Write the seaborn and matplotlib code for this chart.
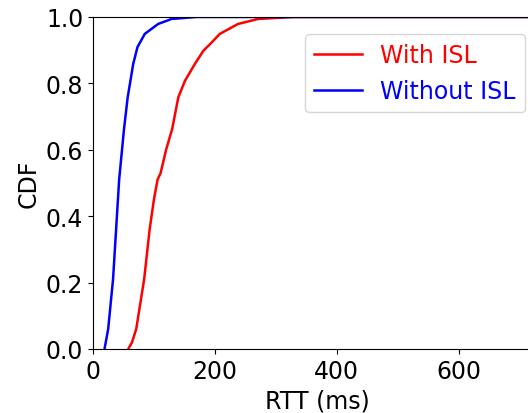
import numpy as np
import pandas as pd
import matplotlib
matplotlib.use("Agg")
import matplotlib.pyplot as plt
import seaborn as sns

# CDF levels and the RTT (ms) at those levels
cdf_with = [0.0, 0.02, 0.06, 0.21, 0.36, 0.45, 0.51, 0.53, 0.60, 0.663,
            0.758, 0.808, 0.858, 0.898, 0.918, 0.949, 0.979, 0.994, 1.0, 1.0]
rtt_with = [58, 64, 71, 84, 93, 100, 106, 111, 120, 130,
            140, 151, 167, 181, 192, 208, 238, 271, 330, 900]

cdf_without = [0.0, 0.06, 0.21, 0.36, 0.51, 0.663, 0.758, 0.858, 0.909,
               0.949, 0.979, 0.994, 1.0, 1.0]
rtt_without = [19, 25, 33, 38, 43, 51, 57, 66, 73, 85, 107, 129, 170, 900]

df_with = pd.DataFrame({"rtt": rtt_with, "cdf": cdf_with})
df_without = pd.DataFrame({"rtt": rtt_without, "cdf": cdf_without})

fig = plt.figure(figsize=(5.28, 4.14), dpi=100)
ax = fig.add_axes([0.176, 0.1546, 0.85, 0.802])

sns.lineplot(data=df_with, x="rtt", y="cdf", color="red", linewidth=1.8,
             label="With ISL", sort=False, ax=ax)
sns.lineplot(data=df_without, x="rtt", y="cdf", color="blue", linewidth=1.8,
             label="Without ISL", sort=False, ax=ax)

ax.set_xlim(0, 736)
ax.set_ylim(0, 1.0)
ax.set_xticks([0, 200, 400, 600])
ax.set_yticks([0.0, 0.2, 0.4, 0.6, 0.8, 1.0])
ax.set_xlabel("RTT (ms)", fontsize=17)
ax.set_ylabel("CDF", fontsize=17)
ax.tick_params(labelsize=17)

leg = ax.legend(loc="upper right", fontsize=17, bbox_to_anchor=(0.99, 0.985))
for txt, c in zip(leg.get_texts(), ["red", "blue"]):
    txt.set_color(c)

fig.savefig("out.png", dpi=100)
